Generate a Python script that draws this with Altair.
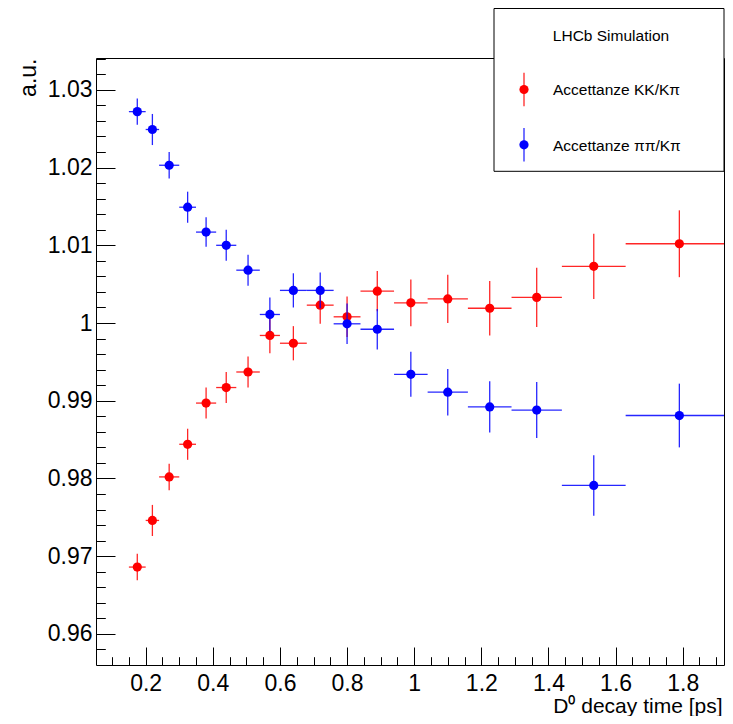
import altair as alt
import pandas as pd

FONT = "Liberation Sans"

# bin edges of the decay-time histogram
x_lo = [0.15, 0.20, 0.24, 0.30, 0.35, 0.41, 0.47, 0.54, 0.60, 0.68, 0.76, 0.84, 0.94, 1.04, 1.16, 1.29, 1.44, 1.63]
x_hi = [0.20, 0.24, 0.30, 0.35, 0.41, 0.47, 0.54, 0.60, 0.68, 0.76, 0.84, 0.94, 1.04, 1.16, 1.29, 1.44, 1.63, 1.95]

# KK/Kpi acceptance ratio
kk_val = [0.9686, 0.9746, 0.9802, 0.9844, 0.9897, 0.9917, 0.9937, 0.9984, 0.9974, 1.0023, 1.0008, 1.0041,
          1.0026, 1.0031, 1.0019, 1.0033, 1.0073, 1.0102]
kk_err = [0.0017, 0.0020, 0.0017, 0.0020, 0.0020, 0.0020, 0.0020, 0.0023, 0.0022, 0.0024, 0.0026, 0.0026,
          0.0030, 0.0031, 0.0035, 0.0038, 0.0042, 0.0043]

# pipi/Kpi acceptance ratio
pp_val = [1.0272, 1.0249, 1.0203, 1.0149, 1.0117, 1.0100, 1.0068, 1.0011, 1.0042, 1.0042, 0.9999, 0.9992,
          0.9934, 0.9911, 0.9892, 0.9888, 0.9791, 0.9881]
pp_err = [0.0017, 0.0020, 0.0017, 0.0020, 0.0019, 0.0020, 0.0020, 0.0022, 0.0022, 0.0023, 0.0026, 0.0026,
          0.0029, 0.0030, 0.0033, 0.0036, 0.0039, 0.0041]

x_ticks = [0.2, 0.4, 0.6, 0.8, 1.0, 1.2, 1.4, 1.6, 1.8]
x_minor = [round(0.1 + 0.05 * i, 2) for i in range(37)]
y_ticks = [0.96, 0.97, 0.98, 0.99, 1.0, 1.01, 1.02, 1.03]
y_minor = [round(0.958 + 0.002 * i, 3) for i in range(39)]

legend_title = "LHCb Simulation"
legend_labels = ["Accettanze KK/K\u03c0", "Accettanze \u03c0\u03c0/K\u03c0"]
colors = ["#ff0000", "#0000ff"]


def make_df(vals, errs):
    return pd.DataFrame({
        "xlo": x_lo,
        "xhi": x_hi,
        "xc": [(a + b) / 2 for a, b in zip(x_lo, x_hi)],
        "y": vals,
        "ylo": [v - e for v, e in zip(vals, errs)],
        "yhi": [v + e for v, e in zip(vals, errs)],
    })


xs = alt.Scale(domain=[0.052, 1.923], nice=False, zero=False)
ys = alt.Scale(domain=[0.956, 1.0341], nice=False, zero=False)

x_major_axis = alt.Axis(
    values=x_ticks, orient="bottom", offset=-18, tickSize=18, tickColor="black", tickWidth=1,
    domain=False, grid=False, labelFontSize=23, labelFont=FONT, labelColor="black",
    labelPadding=7, labelFlush=False, labelOverlap=False, format="~g",
    title="D\u2070 decay time [ps]", titleFontSize=21, titleFont=FONT, titleFontWeight="normal",
    titleColor="black", titleX=626, titleY=65, titleAlign="right", titleBaseline="alphabetic",
)
x_minor_axis = alt.Axis(
    values=x_minor, orient="bottom", offset=-8.3, tickSize=8.3, tickColor="black", tickWidth=1,
    domain=False, grid=False, labels=False, title=None,
)
y_major_axis = alt.Axis(
    values=y_ticks, orient="left", offset=-19, tickSize=19, tickColor="black", tickWidth=1,
    domain=False, grid=False, labelFontSize=23, labelFont=FONT, labelColor="black",
    labelPadding=4, labelFlush=False, labelOverlap=False, format="~g",
    title="a.u.", titleFontSize=23, titleFont=FONT, titleFontWeight="normal", titleColor="black",
    titleX=-80, titleY=0, titleAngle=270, titleAlign="right", titleBaseline="alphabetic",
)
y_minor_axis = alt.Axis(
    values=y_minor, orient="left", offset=-9.3, tickSize=9.3, tickColor="black", tickWidth=1,
    domain=False, grid=False, labels=False, title=None,
)


def series(df, color, with_axes):
    hbar = alt.Chart(df).mark_rule(color=color, strokeWidth=1.3, opacity=0.85, clip=True).encode(
        x=alt.X("xlo:Q", scale=xs, axis=x_major_axis if with_axes else None),
        x2="xhi:Q",
        y=alt.Y("y:Q", scale=ys, axis=y_major_axis if with_axes else None),
    )
    vbar = alt.Chart(df).mark_rule(color=color, strokeWidth=1.3, opacity=0.85, clip=True).encode(
        x=alt.X("xc:Q", scale=xs, axis=x_minor_axis if with_axes else None),
        y=alt.Y("ylo:Q", scale=ys, axis=y_minor_axis if with_axes else None),
        y2="yhi:Q",
    )
    pts = alt.Chart(df).mark_circle(color=color, size=85, opacity=1, clip=True).encode(
        x=alt.X("xc:Q", scale=xs, axis=None),
        y=alt.Y("y:Q", scale=ys, axis=None),
    )
    return [hbar, vbar, pts]


one = pd.DataFrame({"a": [0]})

legend_box = alt.Chart(one).mark_rect(fill="white", stroke="black", strokeWidth=1).encode(
    x=alt.value(398), x2=alt.value(628), y=alt.value(-49.5), y2=alt.value(113.3)
)
legend_head = alt.Chart(one).mark_text(
    font=FONT, fontSize=15.5, align="center", baseline="alphabetic", color="black"
).encode(x=alt.value(515), y=alt.value(-17.3), text=alt.value(legend_title))

legend_layers = [legend_box, legend_head]
entry_y = [31.5, 86.8]
for lab, col, yy in zip(legend_labels, colors, entry_y):
    legend_layers.append(
        alt.Chart(one).mark_rule(color=col, strokeWidth=1.3, opacity=0.85).encode(
            x=alt.value(428), y=alt.value(yy - 16.7), y2=alt.value(yy + 16.7)
        )
    )
    legend_layers.append(
        alt.Chart(one).mark_circle(color=col, size=85, opacity=1).encode(
            x=alt.value(428), y=alt.value(yy)
        )
    )
    legend_layers.append(
        alt.Chart(one).mark_text(
            font=FONT, fontSize=15.5, align="left", baseline="alphabetic", color="black"
        ).encode(x=alt.value(457), y=alt.value(yy + 5.7), text=alt.value(lab))
    )

layers = series(make_df(kk_val, kk_err), colors[0], True) + series(make_df(pp_val, pp_err), colors[1], False)

chart = alt.layer(*layers, *legend_layers).resolve_axis(
    x="independent", y="independent"
).properties(
    width=628, height=607,
    padding={"left": 88, "top": 50, "right": 1, "bottom": 51},
    autosize="none",
    background="white",
).configure_view(stroke="black", strokeWidth=1)

chart.save("out.html", embed_options={"renderer": "svg", "actions": False})
